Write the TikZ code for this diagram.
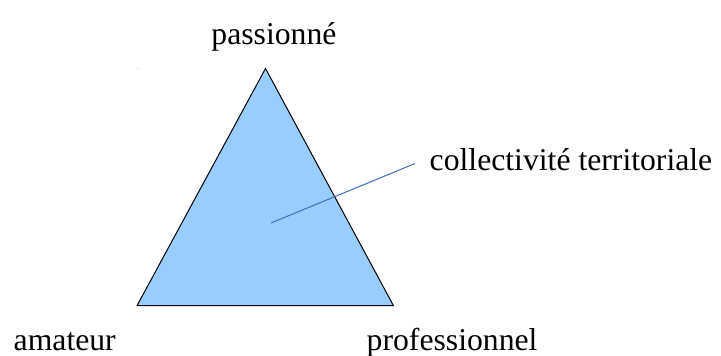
\documentclass[tikz,border=0pt]{standalone}
\usepackage{fontspec}
\setmainfont{Liberation Serif}
\definecolor{trifill}{HTML}{99CCFF}
\definecolor{leader}{HTML}{3C6DC0}
\tikzset{
  lab/.style={inner sep=0pt, font=\fontsize{31.7}{38}\selectfont},
  tri/.style={draw=black, line width=1pt, fill=trifill, line join=miter},
  leaderline/.style={draw=leader, line width=1pt}
}
\begin{document}
\begin{tikzpicture}[x=1pt,y=-1pt]
\useasboundingbox (0,0) rectangle (721,356);
\coordinate (top) at (265.5,68.5);
\coordinate (bl) at (137,305.7);
\coordinate (br) at (393.5,305.7);
\filldraw[tri] (top) -- (br) -- (bl) -- cycle;
\coordinate (inner) at (271,223);
\coordinate (outer) at (415,163.5);
\draw[leaderline] (inner) -- (outer);
\fill[gray!70] (137.7,68.7) circle (0.5);
\node[lab, anchor=base] (pass) at (274,45) {passionné};
\node[lab, anchor=base west] (coll) at (429.5,170) {collectivité territoriale};
\node[lab, anchor=base west] (amat) at (13.5,350) {amateur};
\node[lab, anchor=base west] (prof) at (366.5,350) {professionnel};
\end{tikzpicture}
\end{document}
